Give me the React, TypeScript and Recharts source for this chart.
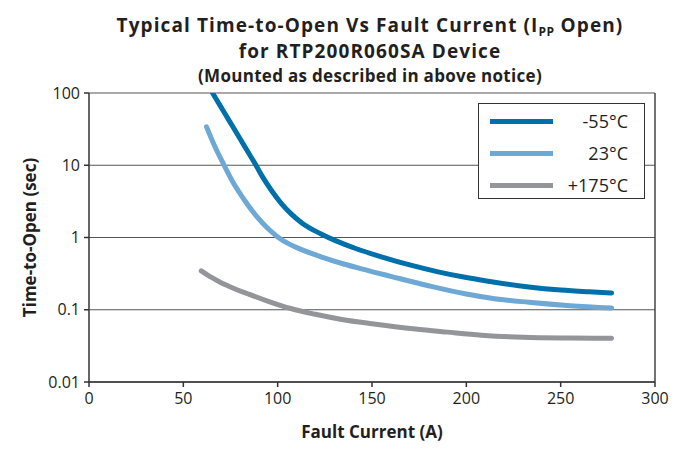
import React from "react";
import {
  LineChart,
  Line,
  XAxis,
  YAxis,
  CartesianGrid,
  ReferenceLine,
} from "recharts";

// Fault current (A) / time-to-open (s)
const seriesM55 = [
  { x: 65.5, y: 100 }, { x: 70, y: 63.7 }, { x: 75, y: 38.6 }, { x: 80, y: 23.4 },
  { x: 85, y: 14.2 }, { x: 88.5, y: 10 }, { x: 92, y: 6.9 }, { x: 97, y: 4.37 },
  { x: 102, y: 2.95 }, { x: 107, y: 2.14 }, { x: 113, y: 1.58 }, { x: 123, y: 1.12 },
  { x: 130, y: 0.92 }, { x: 141, y: 0.71 }, { x: 155, y: 0.54 }, { x: 170, y: 0.417 },
  { x: 185, y: 0.335 }, { x: 200, y: 0.279 }, { x: 215, y: 0.24 }, { x: 233, y: 0.2065 },
  { x: 250, y: 0.187 }, { x: 265, y: 0.177 }, { x: 277, y: 0.171 },
];
const series23 = [
  { x: 62.3, y: 34 }, { x: 66, y: 20 }, { x: 71.6, y: 10 }, { x: 76, y: 6 },
  { x: 80.5, y: 3.9 }, { x: 85, y: 2.65 }, { x: 89.3, y: 1.9 }, { x: 95, y: 1.32 },
  { x: 100, y: 1.02 }, { x: 107, y: 0.79 }, { x: 112, y: 0.69 }, { x: 123, y: 0.54 },
  { x: 135, y: 0.43 }, { x: 145, y: 0.365 }, { x: 160, y: 0.29 }, { x: 180, y: 0.215 },
  { x: 200, y: 0.165 }, { x: 215, y: 0.142 }, { x: 233, y: 0.127 }, { x: 255, y: 0.114 },
  { x: 277, y: 0.106 },
];
const series175 = [
  { x: 59.5, y: 0.346 }, { x: 65, y: 0.28 }, { x: 70, y: 0.237 }, { x: 75, y: 0.207 },
  { x: 85, y: 0.163 }, { x: 95, y: 0.131 }, { x: 107, y: 0.104 }, { x: 120, y: 0.0865 },
  { x: 134, y: 0.0735 }, { x: 150, y: 0.064 }, { x: 173, y: 0.054 }, { x: 190, y: 0.049 },
  { x: 208, y: 0.0445 }, { x: 230, y: 0.0415 }, { x: 255, y: 0.0405 }, { x: 277, y: 0.0402 },
];

const seriesNames = ["-55°C", "23°C", "+175°C"];
const seriesColors = ["#0070ab", "#6ea8d4", "#939598"];
const xTicks = [0, 50, 100, 150, 200, 250, 300];
const yTicks = [0.01, 0.1, 1, 10, 100];
const yTickLabels = ["0.01", "0.1", "1", "10", "100"];

const FONT = "'Open Sans', 'Noto Sans', sans-serif";
const TEXT = "#231f20";

const LegendBox = () => (
  <div
    style={{
      position: "absolute",
      left: 478,
      top: 103,
      width: 167,
      height: 96,
      border: "1px solid #333",
      background: "#fff",
      boxSizing: "border-box",
      paddingTop: 1,
    }}
  >
    {seriesNames.map((name, i) => (
      <div
        key={i}
        style={{ display: "flex", alignItems: "center", height: 32 }}
      >
        <div
          style={{
            marginLeft: 11,
            width: 63,
            height: 5,
            background: seriesColors[i],
          }}
        />
        <div
          style={{
            width: 75,
            textAlign: "right",
            fontFamily: FONT,
            fontSize: 18,
            color: TEXT,
          }}
        >
          {name}
        </div>
      </div>
    ))}
  </div>
);

const titleLine: React.CSSProperties = {
  position: "absolute",
  left: 0,
  width: 740,
  textAlign: "center",
  fontWeight: 700,
  color: TEXT,
  whiteSpace: "nowrap",
};

export default function App() {
  return (
    <div
      style={{
        position: "absolute",
        left: 0,
        top: 0,
        width: 700,
        height: 450,
        background: "#fff",
        fontFamily: FONT,
      }}
    >
      <LineChart
        width={700}
        height={450}
        margin={{ top: 93, right: 45, bottom: 0, left: 0 }}
        style={{ position: "absolute", left: 0, top: 0 }}
      >
        <CartesianGrid
          horizontal={true}
          vertical={false}
          stroke="#555"
          strokeWidth={1.2}
        />
        <ReferenceLine x={300} stroke="#444" strokeWidth={1.5} />
        <XAxis
          type="number"
          dataKey="x"
          domain={[0, 300]}
          ticks={xTicks}
          height={68}
          allowDataOverflow
          stroke="#333"
          strokeWidth={1.5}
          tickSize={5}
          tick={{ fill: TEXT, fontSize: 16, fontFamily: FONT }}
          tickMargin={6}
          label={{
            value: "Fault Current (A)",
            position: "insideBottom",
            offset: 12,
            style: { fontWeight: 700, fontSize: 17, fill: TEXT, fontFamily: FONT },
          }}
        />
        <YAxis
          type="number"
          dataKey="y"
          scale="log"
          domain={[0.01, 100]}
          ticks={yTicks}
          allowDataOverflow
          width={89}
          stroke="#333"
          strokeWidth={1.5}
          tickSize={5}
          tickMargin={4}
          tickFormatter={(v: number) => yTickLabels[yTicks.indexOf(v)] ?? String(v)}
          tick={{ fill: TEXT, fontSize: 16, fontFamily: FONT }}
          label={{
            value: "Time-to-Open (sec)",
            angle: -90,
            position: "insideLeft",
            offset: 30,
            style: {
              fontWeight: 700,
              fontSize: 17,
              fill: TEXT,
              fontFamily: FONT,
              textAnchor: "middle",
            },
          }}
        />
        <Line
          data={seriesM55}
          dataKey="y"
          name={seriesNames[0]}
          type="monotone"
          stroke={seriesColors[0]}
          strokeWidth={5}
          strokeLinecap="round"
          dot={false}
          isAnimationActive={false}
        />
        <Line
          data={series23}
          dataKey="y"
          name={seriesNames[1]}
          type="monotone"
          stroke={seriesColors[1]}
          strokeWidth={5}
          strokeLinecap="round"
          dot={false}
          isAnimationActive={false}
        />
        <Line
          data={series175}
          dataKey="y"
          name={seriesNames[2]}
          type="monotone"
          stroke={seriesColors[2]}
          strokeWidth={5}
          strokeLinecap="round"
          dot={false}
          isAnimationActive={false}
        />
      </LineChart>
      <LegendBox />
      <div style={{ ...titleLine, top: 12, fontSize: 19, lineHeight: "26px", letterSpacing: 1.1 }}>
        Typical Time-to-Open Vs Fault Current (I
        <span style={{ fontSize: 12, position: "relative", top: 4, lineHeight: 0, letterSpacing: 0.5 }}>PP</span> Open)
      </div>
      <div style={{ ...titleLine, top: 38, fontSize: 19, lineHeight: "26px", letterSpacing: 1.1 }}>
        for RTP200R060SA Device
      </div>
      <div style={{ ...titleLine, top: 65, fontSize: 17, lineHeight: "22px", letterSpacing: 0.3 }}>
        (Mounted as described in above notice)
      </div>
    </div>
  );
}
